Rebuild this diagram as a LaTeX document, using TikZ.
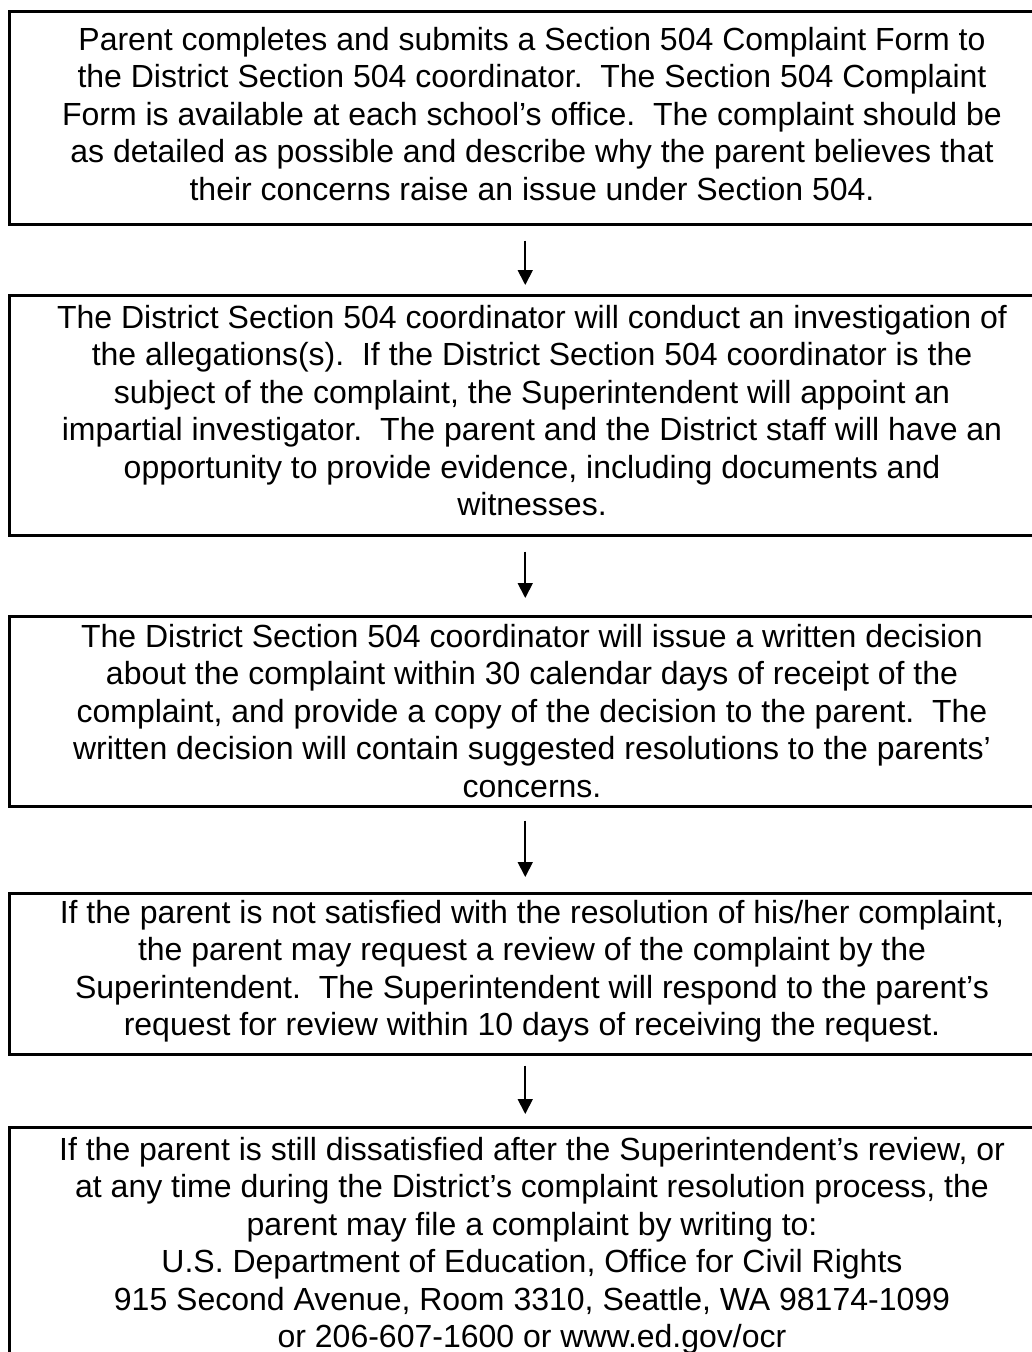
\documentclass[tikz,border=0pt]{standalone}
\usepackage{fontspec}
\setmainfont{Liberation Sans}
\usetikzlibrary{arrows.meta}
\begin{document}
\begin{tikzpicture}[x=1pt,y=1pt,
  box/.style={draw, line width=2.5pt, inner sep=0pt, minimum width=1032pt, anchor=north west},
  txt/.style={align=center, inner sep=0pt, anchor=north, font=\fontsize{32}{37.5}\selectfont},
  arr/.style={line width=1.8pt, -{Triangle[width=15pt,length=15pt]}}]
\useasboundingbox (0,0) rectangle (1032,-1352);
\clip (0,0) rectangle (1032,-1352);
\fill[white] (0,0) rectangle (1032,-1352);

\node[box, minimum height=213pt] (b1) at (8,-10) {};
\node[box, minimum height=240pt] (b2) at (8,-294) {};
\node[box, minimum height=190pt] (b3) at (8,-615) {};
\node[box, minimum height=161pt] (b4) at (8,-892) {};
\node[box, minimum height=250pt] (b5) at (8,-1126) {};

\node[txt] (t1) at (532,-20) {\rule{0pt}{30pt}Parent completes and submits a Section 504 Complaint Form to\\
the District Section 504 coordinator.\ \ The Section 504 Complaint\\
Form is available at each school’s office.\ \ The complaint should be\\
as detailed as possible and describe why the parent believes that\\
their concerns raise an issue under Section 504.};

\node[txt] (t2) at (532,-298) {\rule{0pt}{30pt}The District Section 504 coordinator will conduct an investigation of\\
the allegations(s).\ \ If the District Section 504 coordinator is the\\
subject of the complaint, the Superintendent will appoint an\\
impartial investigator.\ \ The parent and the District staff will have an\\
opportunity to provide evidence, including documents and\\
witnesses.};

\node[txt] (t3) at (532,-617) {\rule{0pt}{30pt}The District Section 504 coordinator will issue a written decision\\
about the complaint within 30 calendar days of receipt of the\\
complaint, and provide a copy of the decision to the parent.\ \ The\\
written decision will contain suggested resolutions to the parents’\\
concerns.};

\node[txt] (t4) at (532,-893) {\rule{0pt}{30pt}If the parent is not satisfied with the resolution of his/her complaint,\\
the parent may request a review of the complaint by the\\
Superintendent.\ \ The Superintendent will respond to the parent’s\\
request for review within 10 days of receiving the request.};

\node[txt] (t5) at (532,-1130) {\rule{0pt}{30pt}If the parent is still dissatisfied after the Superintendent’s review, or\\
at any time during the District’s complaint resolution process, the\\
parent may file a complaint by writing to:\\
U.S. Department of Education, Office for Civil Rights\\
915 Second Avenue, Room 3310, Seattle, WA 98174-1099\\
or 206-607-1600 or www.ed.gov/ocr};

\draw[arr] ([yshift=-15pt]b1.south) -- ([yshift=9pt]b2.north);
\draw[arr] ([yshift=-15pt]b2.south) -- ([yshift=17pt]b3.north);
\draw[arr] ([yshift=-13pt]b3.south) -- ([yshift=15pt]b4.north);
\draw[arr] ([yshift=-10pt]b4.south) -- ([yshift=12pt]b5.north);
\end{tikzpicture}
\end{document}
